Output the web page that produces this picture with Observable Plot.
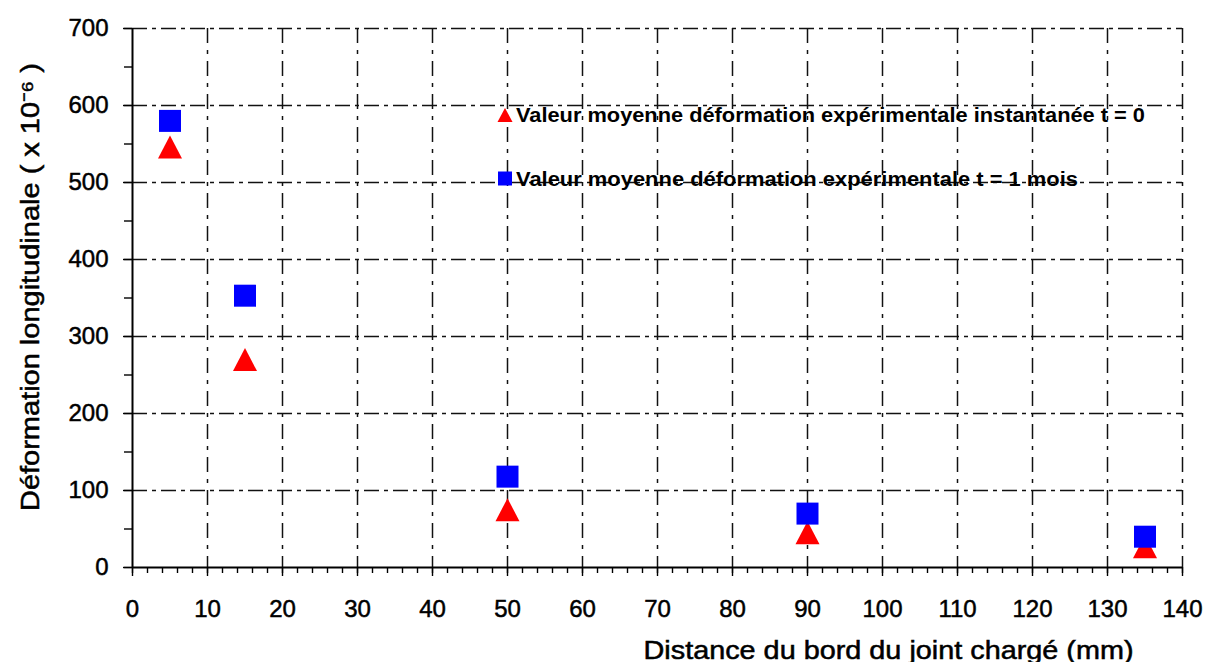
<!DOCTYPE html>
<html><head><meta charset="utf-8">
<script src="https://cdn.jsdelivr.net/npm/d3@7"></script>
<script src="https://cdn.jsdelivr.net/npm/@observablehq/plot@0.6"></script>
<style>
body{margin:0;background:#fff;font-family:"Liberation Sans",Arial,sans-serif;}
#wrap{position:relative;width:1206px;height:662px;}
#legend{position:absolute;left:0;top:0;pointer-events:none;}
</style></head><body><div id="wrap"></div>
<script>
const distances = [5, 15, 50, 90, 135];
const instantValues = [546, 270, 75, 45, 27];
const oneMonthValues = [580, 353, 118, 70, 40];
const xTicks = d3.range(0, 141, 10);
const xMinorTicks = d3.range(0, 141, 2);
const yTicks = d3.range(0, 701, 100);
const yMinorTicks = d3.range(0, 701, 50);
const seriesNames = ["Valeur moyenne déformation expérimentale instantanée t = 0", "Valeur moyenne déformation expérimentale t = 1 mois"];
const seriesColors = ["#ff0000", "#0000ff"];
const xTitle = "Distance du bord du joint chargé (mm)";
const yTitle = "Déformation longitudinale ( x 10⁻⁶ )";

const instant = distances.map((d, i) => ({x: d, y: instantValues[i]}));
const oneMonth = distances.map((d, i) => ({x: d, y: oneMonthValues[i]}));

// triangle centred on its bounding box
const triangle = {draw(ctx) { const w = 24, h = 23; ctx.moveTo(0, -h/2); ctx.lineTo(w/2, h/2); ctx.lineTo(-w/2, h/2); ctx.closePath(); }};
const square = {draw(ctx) { const s = 22; ctx.rect(-s/2, -s/2, s, s); }};

const chart = Plot.plot({
  width: 1206, height: 662,
  marginLeft: 132, marginRight: 24, marginTop: 28, marginBottom: 95,
  style: {fontFamily: "'Liberation Sans', Arial, sans-serif", background: "#fff", color: "#000"},
  x: {domain: [0, 140]},
  y: {domain: [0, 700]},
  marks: [
    Plot.gridX(xTicks.filter(d => d > 0), {stroke: "#111", strokeOpacity: 1, strokeWidth: 1.5, strokeDasharray: "15,7,4,7"}),
    Plot.gridY(yTicks.filter(d => d > 0), {stroke: "#111", strokeOpacity: 1, strokeWidth: 1.5, strokeDasharray: "15,5,4,5"}),
    Plot.axisX(xMinorTicks, {tickSize: 6, text: null, strokeWidth: 1.4, label: null}),
    Plot.axisX(xTicks, {tickSize: 9, tickPadding: 23, fontSize: 24, strokeWidth: 1.4, label: null}),
    Plot.axisY(yMinorTicks, {tickSize: 8, text: null, strokeWidth: 1.4, label: null}),
    Plot.axisY(yTicks, {tickSize: 9, tickPadding: 15, fontSize: 24, strokeWidth: 1.4, label: null}),
    Plot.ruleX([0], {stroke: "#000", strokeWidth: 2}),
    Plot.ruleY([0], {stroke: "#000", strokeWidth: 2}),
    Plot.dot(instant, {x: "x", y: "y", symbol: () => triangle, r: 10, fill: seriesColors[0], stroke: null}),
    Plot.dot(oneMonth, {x: "x", y: "y", symbol: () => square, r: 10, fill: seriesColors[1], stroke: null}),
    Plot.text([xTitle], {frameAnchor: "bottom-right", textAnchor: "end", lineAnchor: "middle", dx: -49, dy: 83, fontSize: 25, fill: "#000"}),
    Plot.text([yTitle], {frameAnchor: "left", rotate: -90, textAnchor: "middle", lineAnchor: "middle", dx: -102, dy: -11, fontSize: 25, fill: "#000"})
  ]
});
const wrap = document.getElementById("wrap");
wrap.appendChild(chart);

// heavier text like the reference, stretched titles
d3.select(chart).selectAll("text").each(function() {
  const sel = d3.select(this).attr("fill", "#000").attr("stroke", "#000").attr("stroke-width", 0.5);
  const t = this.textContent;
  if (t === xTitle) sel.attr("textLength", 490).attr("lengthAdjust", "spacingAndGlyphs");
  if (t === yTitle) sel.attr("textLength", 448).attr("lengthAdjust", "spacingAndGlyphs");
});

// legend inside the plot area
const legendRows = [
  {name: seriesNames[0], color: seriesColors[0], shape: "triangle", cy: 115, len: 629},
  {name: seriesNames[1], color: seriesColors[1], shape: "square", cy: 178.5, len: 562}
];
const leg = d3.select(wrap).append("svg").attr("id", "legend").attr("width", 1206).attr("height", 662);
legendRows.forEach(r => {
  const g = leg.append("g").attr("transform", `translate(505,${r.cy})`);
  if (r.shape === "triangle") g.append("path").attr("d", "M0,-7L7.5,7L-7.5,7Z").attr("fill", r.color);
  else g.append("rect").attr("x", -7).attr("y", -7).attr("width", 14).attr("height", 14).attr("fill", r.color);
  g.append("text").attr("x", 11).attr("y", 7)
    .attr("font-family", "'Liberation Sans', Arial, sans-serif").attr("font-size", 20).attr("font-weight", "bold")
    .attr("fill", "#000")
    .attr("textLength", r.len).attr("lengthAdjust", "spacingAndGlyphs")
    .text(r.name);
});
</script>
</body></html>
